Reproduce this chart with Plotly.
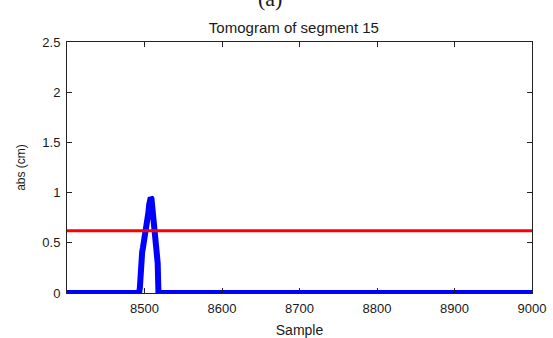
import plotly.graph_objects as go

# Tomogram profile of segment 15 (absolute value in cm vs. sample index)
sample = [8400, 8493, 8494, 8495, 8496, 8497, 8498, 8499, 8500, 8501, 8502,
          8503, 8504, 8505, 8506, 8507, 8508, 8509, 8510, 8511, 8512, 8513,
          8514, 8515, 8516, 8517, 8518, 9000]
abs_cm = [0.0, 0.0, 0.05, 0.33, 0.37, 0.41, 0.45, 0.49, 0.53, 0.57, 0.61,
          0.66, 0.72, 0.80, 0.88, 0.94, 0.95, 0.94, 0.88, 0.78, 0.70, 0.62,
          0.54, 0.46, 0.38, 0.30, 0.0, 0.0]

threshold_x = [8400, 9000]
threshold_y = [0.62, 0.62]

x_ticks = [8500, 8600, 8700, 8800, 8900, 9000]
y_ticks = [0, 0.5, 1, 1.5, 2, 2.5]
y_tick_text = ["0", "0.5", "1", "1.5", "2", "2.5"]

font_family = "Liberation Sans, Arial, sans-serif"
text_color = "#1a1a1a"

fig = go.Figure()
fig.add_trace(go.Scatter(x=sample, y=abs_cm, mode="lines",
                         line=dict(color="#0000ff", width=6),
                         hoverinfo="skip", showlegend=False))
fig.add_trace(go.Scatter(x=threshold_x, y=threshold_y, mode="lines",
                         line=dict(color="#ff0000", width=3),
                         hoverinfo="skip", showlegend=False))

axis_common = dict(showgrid=False, zeroline=False, showline=True,
                   linecolor="#222222", linewidth=1, mirror="ticks",
                   ticks="inside", ticklen=5, tickcolor="#222222",
                   automargin=False,
                   tickfont=dict(family=font_family, size=13, color=text_color))

fig.update_xaxes(range=[8400, 9000], tickvals=x_ticks, ticklabelstandoff=3,
                 title=dict(text="Sample", font=dict(family=font_family, size=14, color=text_color),
                            standoff=10),
                 **axis_common)
fig.update_yaxes(range=[0, 2.5], tickvals=y_ticks, ticktext=y_tick_text,
                 ticklabelstandoff=3,
                 title=dict(text="abs (cm)", font=dict(family=font_family, size=12, color=text_color),
                            standoff=14),
                 **axis_common)

fig.update_layout(
    width=553, height=338,
    margin=dict(l=67, r=21, t=42, b=45, autoexpand=False),
    paper_bgcolor="white", plot_bgcolor="white",
    title=dict(text="Tomogram of segment 15", x=0.488, xanchor="center",
               xref="paper", y=1, yref="paper", yanchor="bottom", pad=dict(b=9),
               automargin=False,
               font=dict(family=font_family, size=15, color=text_color)),
    annotations=[dict(text="(a)", xref="paper", yref="paper", x=0.437, y=1.0,
                      yshift=29, xanchor="center", yanchor="bottom",
                      showarrow=False,
                      font=dict(family="Liberation Serif, Times New Roman, serif",
                                size=22, color=text_color))],
)

fig.write_html("out.html")
